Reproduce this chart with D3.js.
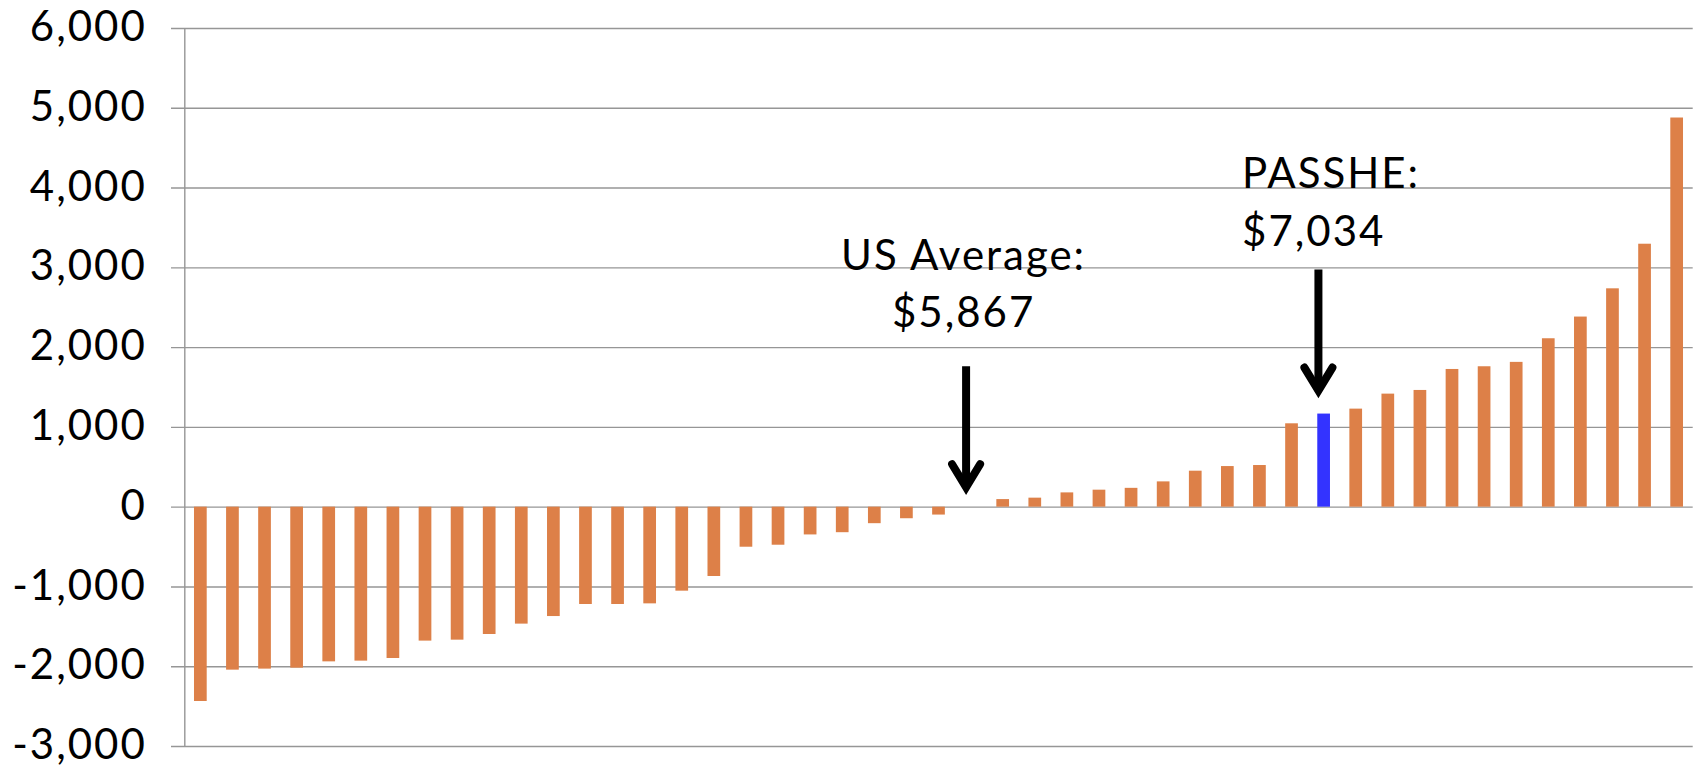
<!DOCTYPE html>
<html>
<head>
<meta charset="utf-8">
<script src="https://cdn.jsdelivr.net/npm/d3@7"></script>
<style>
  html, body { margin: 0; padding: 0; background: #ffffff; }
  svg { display: block; }
  text { font-family: Lato, "Open Sans", sans-serif; fill: #000; letter-spacing: 2px; }
</style>
</head>
<body>
<script>
// Per-student funding, difference from the US average (dollars), sorted low to high
const categories = [
  "c01","c02","c03","c04","c05","c06","c07","c08","c09","c10",
  "c11","c12","c13","c14","c15","c16","c17","c18","c19","c20",
  "c21","c22","c23","c24","US","c26","c27","c28","c29","c30",
  "c31","c32","c33","c34","c35","PASSHE","c37","c38","c39","c40",
  "c41","c42","c43","c44","c45","c46","c47"
];
const values = [
  -2436, -2043, -2030, -2018, -1939, -1930, -1897, -1679, -1667, -1596,
  -1466, -1371, -1220, -1220, -1212, -1053,  -869,  -502,  -477,  -348,
   -320,  -207,  -145,   -99,     0,    95,   113,   179,   213,   236,
    317,   451,   509,   522,  1045,  1167,  1229,  1417,  1463,  1726,
   1760,  1815,  2111,  2383,  2737,  3296,  4878
];
const usAverage = 5867;
const yTicks = [-3000, -2000, -1000, 0, 1000, 2000, 3000, 4000, 5000, 6000];
const highlight = "PASSHE";

const W = 1703, H = 765;
const margin = { left: 184.3, right: 10.3, top: 28, bottom: 19 };

const svg = d3.select("body").append("svg")
  .attr("width", W).attr("height", H);

const x = d3.scaleBand()
  .domain(categories)
  .range([margin.left, W - margin.right])
  .paddingInner(0.604)
  .paddingOuter(0.302);

const y = d3.scaleLinear()
  .domain([-3000, 6000])
  .range([H - margin.bottom, margin.top]);

const locale = d3.formatLocale({ decimal: ".", thousands: ",", grouping: [3], currency: ["$", ""], minus: "-" });
const fmt = locale.format(",");
const money = locale.format("$,");

// y axis with labels; tick lines extended across the plot as gridlines
const yAxis = svg.append("g")
  .attr("transform", `translate(${margin.left},0)`)
  .call(d3.axisLeft(y).tickValues(yTicks).tickFormat(fmt).tickSizeOuter(0).tickPadding(31.5));

yAxis.select(".domain")
  .attr("stroke", "#969696").attr("stroke-width", 1.4);
yAxis.selectAll(".tick line")
  .attr("x1", -13.3)
  .attr("x2", W - margin.right - margin.left)
  .attr("stroke", "#969696").attr("stroke-width", 1.4);
yAxis.selectAll(".tick text")
  .attr("font-size", 42)
  .attr("fill", "#000")
  .attr("dy", "0.3em")
  .style("font-family", "Lato, sans-serif");

// bars
svg.append("g").selectAll("rect")
  .data(categories.map((c, i) => ({ c, v: values[i] })))
  .join("rect")
  .attr("x", d => x(d.c))
  .attr("width", x.bandwidth())
  .attr("y", d => y(Math.max(0, d.v)))
  .attr("height", d => Math.abs(y(d.v) - y(0)))
  .attr("fill", d => d.c === highlight ? "#3333ff" : "#dd8048");

// annotations: label lines + downward arrow
const notes = [
  { cat: "US", dx: -4.5, lines: ["US Average:", money(usAverage + values[categories.indexOf("US")])],
    anchor: "middle", textDx: -2.5, tipAbove: 13.4, baseGap: 39.3 },
  { cat: "PASSHE", dx: -5.2, lines: ["PASSHE:", money(usAverage + values[categories.indexOf("PASSHE")])],
    anchor: "start", textDx: -76.3, tipAbove: 17, baseGap: 24 }
];

const ann = svg.append("g");
notes.forEach(n => {
  const i = categories.indexOf(n.cat);
  const cx = x(n.cat) + x.bandwidth() / 2 + n.dx;
  const tipY = y(Math.max(0, values[i])) - n.tipAbove;
  const shaftTop = tipY - 127;
  // shaft
  ann.append("line")
    .attr("x1", cx).attr("x2", cx)
    .attr("y1", shaftTop).attr("y2", tipY - 8)
    .attr("stroke", "#000").attr("stroke-width", 8);
  // open arrowhead
  ann.append("path")
    .attr("d", `M${cx - 14},${tipY - 29} L${cx},${tipY - 6} L${cx + 14},${tipY - 29}`)
    .attr("fill", "none").attr("stroke", "#000").attr("stroke-width", 8)
    .attr("stroke-linecap", "round").attr("stroke-linejoin", "miter");
  const base2 = shaftTop - n.baseGap;
  const t = ann.append("text")
    .attr("text-anchor", n.anchor)
    .attr("font-size", 42);
  t.append("tspan").attr("x", cx + n.textDx).attr("y", base2 - 57.4).text(n.lines[0]);
  t.append("tspan").attr("x", cx + n.textDx).attr("y", base2).text(n.lines[1]);
});
</script>
</body>
</html>
